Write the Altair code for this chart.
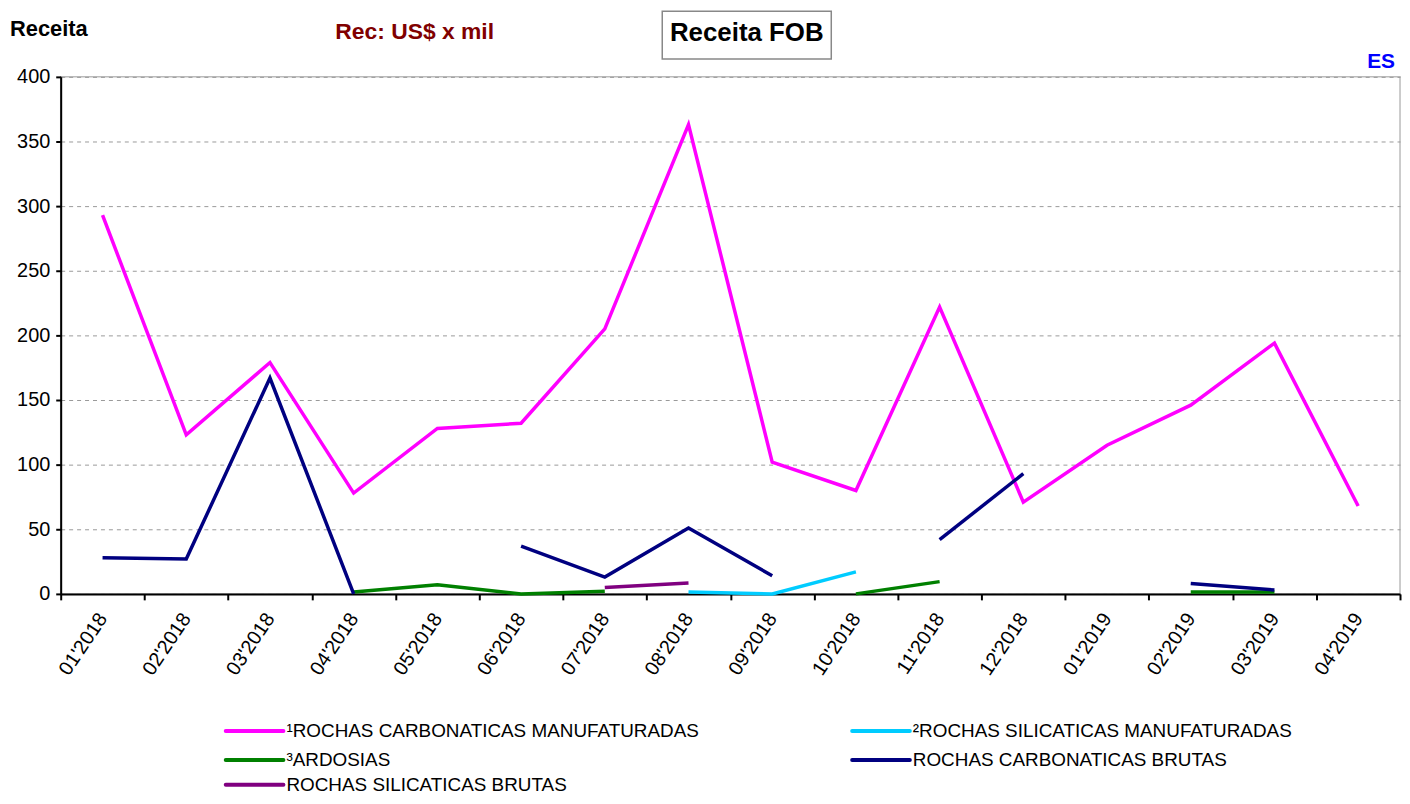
import altair as alt
import pandas as pd

months = ["01'2018", "02'2018", "03'2018", "04'2018", "05'2018", "06'2018", "07'2018", "08'2018",
          "09'2018", "10'2018", "11'2018", "12'2018", "01'2019", "02'2019", "03'2019", "04'2019"]

series_names = ["¹ROCHAS CARBONATICAS MANUFATURADAS", "²ROCHAS SILICATICAS MANUFATURADAS",
                "³ARDOSIAS", "ROCHAS CARBONATICAS BRUTAS", "ROCHAS SILICATICAS BRUTAS"]
series_colors = ["#FF00FF", "#00CCFF", "#008000", "#000080", "#800080"]

carb_manuf = [293, 123, 179, 78, 128, 132, 205, 363, 102, 80, 222, 71, 115, 146, 194, 68]
silic_manuf = [None, None, None, None, None, None, None, 1.5, 0, 17, None, None, None, None, None, None]
ardosias = [None, None, None, 1.5, 7, 0, 2, None, None, 0, 9.5, None, None, 1.5, 1.5, None]
carb_brutas = [28, 27, 167, 0, None, 37, 13, 51, 14, None, 42, 93, None, 8, 3, None]
silic_brutas = [None, None, None, None, None, None, 5, 8.5, None, None, None, None, None, None, None, None]

all_series = [carb_manuf, silic_manuf, ardosias, carb_brutas, silic_brutas]

rows = []
for name, vals in zip(series_names, all_series):
    seg = 0
    prev_none = True
    for m, v in zip(months, vals):
        if v is None:
            prev_none = True
            continue
        if prev_none:
            seg += 1
        prev_none = False
        rows.append({"month": m, "serie": name, "valor": v, "seg": f"{name}-{seg}"})
df = pd.DataFrame(rows)

FONT = "Liberation Sans"

lines = alt.Chart(df).mark_line(strokeWidth=3.5).encode(
    x=alt.X("month:N", sort=months, bandPosition=0.5,
            scale=alt.Scale(type="band", domain=months, paddingInner=0, paddingOuter=0),
            axis=alt.Axis(title=None, labelAngle=-56, labelAlign="right", labelBaseline="middle",
                          labelFontSize=20, labelPadding=15, tickBand="extent", tickSize=6,
                          tickColor="black", domainColor="black", domainWidth=2, tickWidth=2,
                          labelColor="black", grid=False)),
    y=alt.Y("valor:Q", scale=alt.Scale(domain=[0, 400], nice=False),
            axis=alt.Axis(title=None, values=list(range(0, 401, 50)), labelFontSize=20,
                          labelPadding=6, tickSize=5, tickColor="black", domainColor="black",
                          domainWidth=2, tickWidth=2, labelColor="black", grid=True,
                          gridColor="#999999", gridDash=[4, 4], gridWidth=1)),
    color=alt.Color("serie:N", scale=alt.Scale(domain=series_names, range=series_colors),
                    legend=None),
    detail="seg:N",
)

def txt(s, x, y, size, color="black", align="left", weight="bold"):
    return alt.Chart(pd.DataFrame({"t": [s]})).mark_text(
        fontSize=size, fontWeight=weight, color=color, align=align, baseline="middle", font=FONT
    ).encode(text="t:N", x=alt.value(x), y=alt.value(y))

box = alt.Chart(pd.DataFrame({"t": [0]})).mark_rect(
    fill="white", stroke="#888888", strokeWidth=1.5
).encode(x=alt.value(605), x2=alt.value(775), y=alt.value(-66), y2=alt.value(-18))

# legend (manual, two columns)
leg_pos = [(164, 658), (794, 658), (164, 687), (794, 687), (164, 712)]
legend_layers = []
for name, col, (lx, ly) in zip(series_names, series_colors, leg_pos):
    legend_layers.append(
        alt.Chart(pd.DataFrame({"t": [0]})).mark_rule(
            color=col, strokeWidth=4, strokeCap="round"
        ).encode(x=alt.value(lx + 2), x2=alt.value(lx + 60), y=alt.value(ly))
    )
    legend_layers.append(txt(name, lx + 63, ly, 19, weight="normal"))

chart = alt.layer(
    lines,
    box,
    txt("Receita", -51, -48, 22),
    txt("Rec: US$ x mil", 356, -45, 23, color="#800000", align="center"),
    txt("Receita FOB", 690, -44, 26, align="center"),
    txt("ES", 1328, -15, 21, color="#0000FF", align="center"),
    *legend_layers,
).properties(
    width=1347, height=520,
    autosize=alt.AutoSizeParams(type="none"),
    padding={"left": 53, "top": 67, "right": 2, "bottom": 201},
).configure(font=FONT).configure_view(stroke="#BBBBBB", strokeWidth=1.5)

chart.save("out.html", embed_options={"renderer": "svg", "actions": False})
